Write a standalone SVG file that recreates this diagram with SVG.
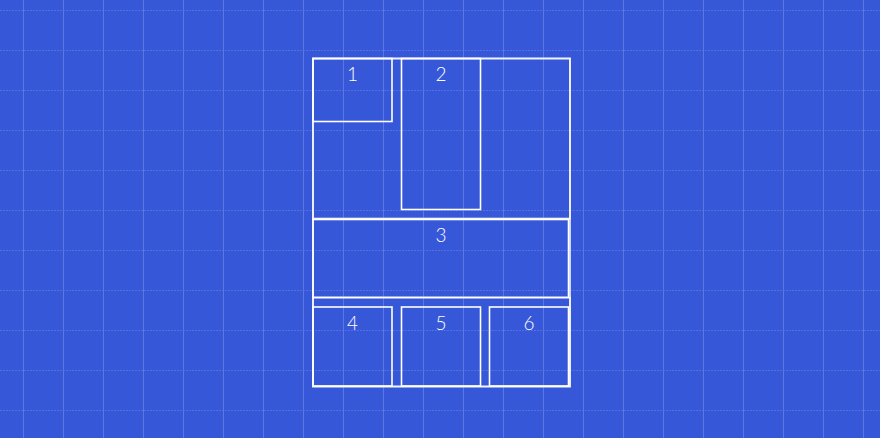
<svg xmlns="http://www.w3.org/2000/svg" width="880" height="438" viewBox="0 0 880 438">
<defs>
<pattern id="gv" x="23" y="0" width="40" height="438" patternUnits="userSpaceOnUse">
<line x1="0.5" y1="0" x2="0.5" y2="438" stroke="#5b77e2" stroke-width="1"/>
</pattern>
<pattern id="gh" x="0" y="10" width="880" height="40" patternUnits="userSpaceOnUse">
<line x1="0" y1="0.5" x2="880" y2="0.5" stroke="#5270df" stroke-width="1" stroke-dasharray="2 1"/>
</pattern>
</defs>
<style>
.box{fill:none;stroke:#ffffff;stroke-width:1.6}
.frame{fill:none;stroke:#f2f4fc;stroke-width:1.6}
.lbl{font-family:"Lato","Open Sans","Liberation Sans",sans-serif;font-size:19px;fill:#ffffff;text-anchor:middle;font-weight:300}
</style>
<rect width="880" height="438" fill="#3658d8"/>
<rect width="880" height="438" fill="url(#gh)"/>
<rect width="880" height="438" fill="url(#gv)"/>
<g id="container">
<rect class="frame" x="313" y="58.5" width="257" height="328"/>
<rect class="frame" x="313" y="58.5" width="257" height="160"/>
<rect class="frame" x="313" y="297.5" width="257" height="89"/>
</g>
<g id="node1"><rect class="box" x="313" y="58.5" width="79" height="63"/><text class="lbl" x="352.5" y="81">1</text></g>
<g id="node2"><rect class="box" x="401.5" y="58.5" width="79" height="151"/><text class="lbl" x="441" y="81">2</text></g>
<g id="node3"><rect class="box" x="313" y="219.5" width="255.5" height="78"/><text class="lbl" x="441" y="242">3</text></g>
<g id="node4"><rect class="box" x="313" y="307" width="79" height="79"/><text class="lbl" x="352.5" y="330">4</text></g>
<g id="node5"><rect class="box" x="401.5" y="307" width="79" height="79"/><text class="lbl" x="441" y="330">5</text></g>
<g id="node6"><rect class="box" x="489.5" y="307" width="79" height="79"/><text class="lbl" x="529" y="330">6</text></g>
<g id="connectors"/>
</svg>
